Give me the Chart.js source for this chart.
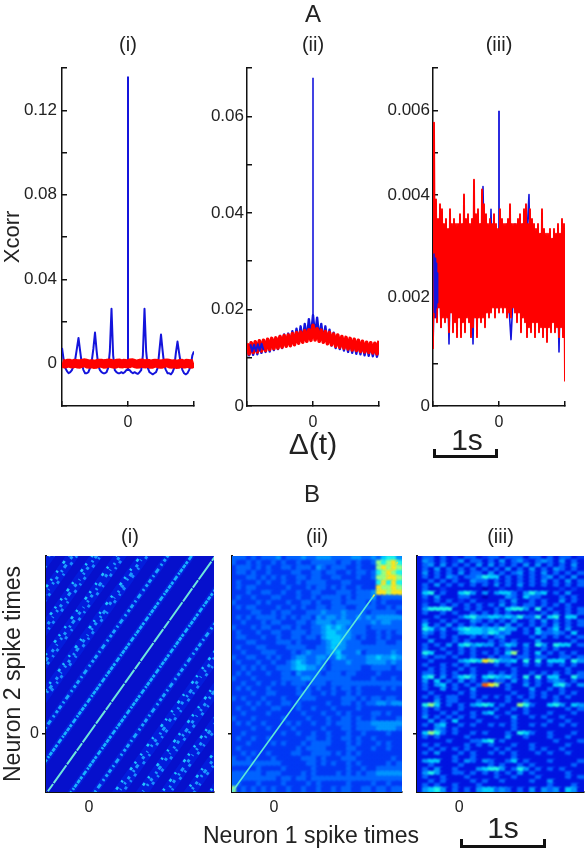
<!DOCTYPE html>
<html><head><meta charset="utf-8">
<script src="https://cdn.jsdelivr.net/npm/chart.js@4"></script>
<style>
html,body{margin:0;padding:0;background:#fff}
#page{position:relative;width:588px;height:852px;overflow:hidden;font-family:"Liberation Sans",sans-serif;color:#222}
canvas{position:absolute;left:0;top:0}
.t{position:absolute;transform:translate(-50%,-50%);white-space:nowrap;line-height:1}
.bar{position:absolute;border:3px solid #111;border-top:none;box-sizing:border-box}
</style></head><body>
<div id="page">
<canvas id="a1" width="588" height="852"></canvas>
<canvas id="a2" width="588" height="852"></canvas>
<canvas id="a3" width="588" height="852"></canvas>
<canvas id="b1" width="588" height="852"></canvas>
<canvas id="b2" width="588" height="852"></canvas>
<canvas id="b3" width="588" height="852"></canvas>
<div class="t" style="left:313px;top:14px;font-size:24px">A</div>
<div class="t" style="left:312px;top:494px;font-size:24px">B</div>
<div class="t" style="left:467px;top:440px;font-size:30px">1s</div>
<div class="t" style="left:503px;top:828px;font-size:30px">1s</div>
<div class="t" style="left:311px;top:835px;font-size:23px">Neuron 1 spike times</div>
<div class="bar" style="left:433px;top:449px;width:65px;height:9px"></div>
<div class="bar" style="left:460px;top:839px;width:86px;height:9px"></div>
</div>
<script>
const panelTitles = ['(i)','(ii)','(iii)'];
const xcorrTicks1 = [-0.02,0,0.02,0.04,0.06,0.08,0.10,0.12,0.14];
const xcorrLabels1 = ['', '0', '', '0.04', '', '0.08', '', '0.12', ''];
const xcorrTicks2 = [0,0.01,0.02,0.03,0.04,0.05,0.06,0.07];
const xcorrLabels2 = ['0','', '0.02','', '0.04','', '0.06',''];
const xcorrTicks3 = [0,0.00086,0.00221,0.00343,0.00429,0.00514,0.006,0.00687];
const xcorrLabels3 = ['0','', '0.002','', '0.004','', '0.006',''];
const lagTicks = [-1,0,1];
const lagLabels = ['', '0', ''];

const blueI = [.0075,.002,-.002,-.0035,-.0045,-.004,-.003,-.001,.002,.007,.0122,
.006,0,-.003,-.0045,-.0045,-.004,-.002,.001,.007,.0148,
.006,-.001,-.003,-.004,-.0045,-.0045,-.004,-.002,.006,.026,
.004,-.003,-.004,-.0045,-.0045,-.004,-.0045,-.004,-.003,-.003,
-.003,-.004,-.0045,-.004,-.0045,-.0048,-.004,-.003,.004,.026,
.006,-.002,-.004,-.0045,-.005,-.0045,-.004,-.002,.006,.0138,
.006,-.001,-.003,-.0045,-.0045,-.005,-.004,-.002,.005,.0105,
.005,0,-.003,-.0045,-.005,-.0045,-.003,-.001,.004,.0058];
const spikeI = [[0,-.003],[0,.136]];
const redI = [.0003,-.0002,.0004,-.0002,.0003,-.0003,.0002,.0005,-.0003,.0001,-.0004,.0003,.0002,-.0003,.0004,.0001,-.0003,.0005,-.0002,.0003,-.0003,.0006,.0001,-.0003,.0005,-.0002,.0003,-.0004,.0003,.0001,-.0003,.0002,.0004,-.0003,.0001,-.0004,.0003,-.0002,.0003,-.0003,.0002];

const blueII = [.0118,.0105,.012,.0106,.0125,.0107,.0127,.011,.013,.0112,.0134,.0113,.0138,.0116,.014,.0118,.0145,.012,.0148,.0124,.015,.0125,.0155,.0128,.016,.0132,.0165,.0135,.017,.014,.018,.0145,.0188,.0145,.0183,.014,.017,.0136,.0165,.013,.0158,.0125,.0152,.012,.0146,.0118,.0142,.0115,.0138,.0112,.0135,.011,.0132,.0108,.013,.0107,.0128,.0105,.0126,.0104,.0125,.0103,.0122,.0102,.012];
const spikeII = [[0,.015],[0,.068]];
const redII = [.013,.0108,.0131,.0111,.0133,.0112,.0135,.0114,.0136,.0115,.0138,.0117,.014,.0119,.0141,.012,.0144,.0122,.0146,.0124,.0147,.0125,.015,.0127,.0152,.013,.0153,.0132,.0156,.0134,.0158,.0136,.0167,.0137,.016,.0134,.0157,.0132,.0154,.0129,.0152,.0127,.0149,.0124,.0147,.0122,.0144,.012,.0142,.0118,.014,.0116,.0138,.0115,.0136,.0113,.0134,.0112,.0132,.0111,.0131,.011,.013,.0108,.0135];
const blueEarlyII = [.0128,.0113,.0127,.0114,.0128,.0115,.0129,.0116];

const blueIII = [.0012,.0031,.0019,.0030,.0016,.0033,.0020,.0032,.00126,.0034,.0020,.0031,.0018,.0035,.0021,.0033,.0019,.0036,.0020,.0032,
.00126,.0034,.0021,.0036,.0019,.00446,.0022,.0034,.0020,.0040,.0021,.0036,.0020,.0034,.0021,.0035,.0022,.0037,.0020,.00135,.0022,.0037,.0020,.0036,.0018,.0037,.0019,.0035,.0043,.0018,.0034,.0019,.0032,.0017,.0033,.0018,.0034,.0017,.0032,.0016,.0034,.0018,.0033,.0011,.0032,.0017,.0033];
const spikeIII = [[0,.0035],[0,.006]];
const redIII = [.00116,.00576,.0018,.0042,.0017,.0038,.0020,.0041,.0016,.0040,.0018,.0037,.0017,.0038,.0018,.0036,.0015,.0040,.0019,.0037,
.0015,.0038,.0017,.0037,.0014,.0037,.0018,.0039,.0014,.0037,.0017,.0043,.0015,.0038,.0018,.0039,.0017,.0037,.0014,.0038,
.0016,.0046,.0018,.0039,.0014,.0040,.0018,.0037,.0017,.0044,.0018,.0041,.0016,.0039,.0019,.0037,.0018,.0038,.0019,.0037,
.0020,.0039,.0018,.0037,.0020,.0036,.0019,.0040,.0020,.0038,.0019,.0037,.0020,.0037,.0018,.0038,.0019,.0041,.0018,.0037,
.0020,.0037,.0019,.0037,.0017,.0038,.0019,.0039,.0015,.0037,.0018,.0040,.0017,.0041,.0014,.0037,.0016,.0040,.0015,.0038,
.0017,.0037,.0014,.0036,.0017,.0037,.0015,.0035,.0016,.0040,.0014,.0036,.0016,.0035,.0013,.0035,.0016,.0036,.0015,.0034,
.0017,.0036,.0015,.0035,.0016,.0037,.0014,.0035,.0016,.0038,.0014,.0037,.0005];
const blueEarlyIII = [.0031,.0019,.0030,.0018,.0029,.0020,.0027,.0021];

const stripeOffsets = {
 main:[[[-.6,-.6],[1.6,1.6]]],
 near:[[[-.6,-.32],[1.6,1.88]],[[-.6,-.88],[1.6,1.32]]],
 mid:[[[-.6,-.04],[1.6,2.16]],[[-.6,-1.16],[1.6,1.04]]],
 far:[[[-.6,.24],[1.6,2.44]],[[-.6,.52],[1.6,2.72]],[[-.6,.8],[1.6,3]],[[-.6,1.08],[1.6,3.28]],[[-.6,1.36],[1.6,3.56]],
      [[-.6,-1.44],[1.6,.76]],[[-.6,-1.72],[1.6,.48]],[[-.6,-2],[1.6,.2]],[[-.6,-2.28],[1.6,-.08]],[[-.6,-2.56],[1.6,-.36]]],
 farUpper:[[[-.6,.28],[1.6,2.48]],[[-.6,.57],[1.6,2.77]],[[-.6,.85],[1.6,3.05]],[[-.6,1.13],[1.6,3.33]],[[-.6,1.41],[1.6,3.61]],
      [[-.6,-1.39],[1.6,.81]],[[-.6,-1.67],[1.6,.53]],[[-.6,-1.95],[1.6,.25]],[[-.6,-2.23],[1.6,-.03]],[[-.6,-2.51],[1.6,-.31]]],
 farLower:[[[-.6,.2],[1.6,2.4]],[[-.6,.47],[1.6,2.67]],[[-.6,.75],[1.6,2.95]],[[-.6,1.03],[1.6,3.23]],[[-.6,1.31],[1.6,3.51]],
      [[-.6,-1.49],[1.6,.71]],[[-.6,-1.77],[1.6,.43]],[[-.6,-2.05],[1.6,.15]],[[-.6,-2.33],[1.6,-.13]],[[-.6,-2.61],[1.6,-.41]]]
};
const diagII = [[-.49,-.486],[1.15,1.147]];
const diagIIb = [[1.15,1.147],[1.45,1.45]];

const heatII = [
"3332323334233343344433334433435664",
"3223232232322322333332332322376786",
"2333232322332333243233322322278787",
"2332322322223322332332232332367876",
"2223323232322332332233222322377887",
"2322232322322323333222332222268686",
"2323322222232223233232322322287787",
"2223223322322322332223332333488788",
"2322322233222322323333232333423333",
"3222232322232233232233233332323222",
"2323322223223232233233322333322323",
"2222332232332223334333433332333332",
"2323233332323233243443433434344444",
"2232223233222332344434443333434433",
"3222323322332322334545433332333333",
"2322232233223332334554443332232323",
"2332223223223323324555443232232322",
"2223322223332322223455433322233223",
"2322233222233332233454433333333333",
"2232223332223234333445333423333343",
"3223322323223443344335433334454454",
"2322232232234543343233343334444343",
"2232323223334554433233333322333323",
"2323222322332433332333233222232222",
"3222322222333344333333332222322232",
"2232232232323332333233333333333333",
"2323222322222323232232332322223232",
"2222322332222333223232232322222222",
"3232223222322233322222333232332332",
"2223232322332322222322332323344344",
"2322322233222322322232222322222222",
"2232222322222232223223232222332322",
"3222322222322223222322332322322223",
"2323223222232322322323332333444444",
"2222322322223222223222332333344443",
"2232222222322322322322232232222322",
"2322322322222223322322332322322222",
"2223222232322232333322232322232322",
"2322222222222323333222233222322322",
"2232322322223322333323232322222222",
"3223222232222233323222333222222232",
"3333333333222223323232232322222323",
"2222232222322222322222232232233333",
"3333332333222232322223232323344444",
"3333333332332332333333333333333333",
"3322232222322223232222232222322322",
"7232323232232232232232332233233233"];

const heatIII = [
"1331312133123313331331313312",
"1431312413313141342134314131",
"1341413131414131314141313141",
"1314131313131314131413143131",
"1413131413314131341314131313",
"1313143133465513131313413141",
"1131313114331313131314131413",
"1314131313131413141313131313",
"1311211111101121121111112121",
"1561311564141455314645131411",
"1314111331101114315331113131",
"1213131213111131411313114131",
"1311313131313141313313131311",
"1466661131311315664161311313",
"1311313113131313111213131313",
"1113111356445545463361561551",
"1311313114313131411314131313",
"1513141313131314131313141313",
"1652413565545464413151351411",
"1431311455546534113153343151",
"1311313113131341111313131313",
"1141113131113131311141111131",
"1313141564544135414164165513",
"1311311313111313113113131111",
"1651131313131315713151313131",
"1313313113113133133133113313",
"1131111456587644516161555164",
"1311313131111313113131313131",
"1131311313111111311111111311",
"1331313113113131311313131313",
"1561413564156545316161551163",
"1415131413131331413131343131",
"1314513131398713114131156314",
"1311413114111113111411313111",
"1131111313111111311313113131",
"1313133113131313131313131311",
"1114133111311113113111131111",
"1675131314565131176311564154",
"1313111311111311313111111313",
"1311313113145113113111311131",
"1413131313111311411313113111",
"1141315111311111311111311311",
"1314511313113131311313113131",
"1114313111111111311111111111",
"1576313113131113165311311131",
"1313111131111114113111311311",
"1111131113356131111111131113",
"1313111131313111311311111311",
"1131313131111313111313113111",
"1314111313113131311131311311",
"1111113113111111311111111111",
"1455113143143113513111311113",
"1131111311113131131311111131",
"1314113111456641364131313111",
"1464113313131313141311111311",
"1311311131111311311131111313",
"1131311113131131111311411111",
"1313113111311111111111311131",
"1456413131455343131414341541"];

const JET = ['#0000be','#0014e1','#0038f5','#0064ff','#0096ff','#00cdff','#1ef5eb','#96ff82','#fae61e','#ff5a0a'];

function xs(arr,a,b){return arr.map((y,i)=>({x:a+i*(b-a)/(arr.length-1),y}));}
function pair(arr){return arr.map(p=>({x:p[0],y:p[1]}));}

const FONT='"Liberation Sans", sans-serif';
function base(o){
 const titleH=o.tsize*1.2+o.tpad, W=o.W, H=o.H;
 return {
  responsive:false, animation:false, devicePixelRatio:1,
  layout:{autoPadding:false,padding:{left:o.L-W,right:588-o.R,top:o.T-titleH,bottom:852-o.B-H}},
  plugins:{legend:{display:false},tooltip:{enabled:false},
   title:{display:true,text:o.title,fullSize:false,color:'#222',font:{family:FONT,size:o.tsize,weight:'normal'},padding:{top:0,bottom:o.tpad}}},
  elements:{point:{radius:0},line:{tension:0}},
  scales:{
   x:{type:'linear',min:o.xr[0],max:o.xr[1],z:1,
      afterFit:s=>{s.height=H},
      afterBuildTicks:s=>{s.ticks=o.xticks.map(v=>({value:v}))},
      border:{color:'#111',width:o.bw},
      grid:{drawOnChartArea:false,color:'#111',lineWidth:o.tw,tickLength:-o.tlx},
      ticks:{autoSkip:false,maxRotation:0,padding:o.xpad,color:'#222',font:{family:FONT,size:o.xfs},callback:(v,i)=>o.xlabels[i]},
      title:o.xtitle?{display:true,text:o.xtitle,color:'#222',font:{family:FONT,size:30},padding:0}:{display:false}},
   y:{type:'linear',min:o.yr[0],max:o.yr[1],z:1,
      afterFit:s=>{s.width=W},
      afterBuildTicks:s=>{s.ticks=o.yticks.map(v=>({value:v}))},
      border:{color:'#111',width:o.bw},
      grid:{drawOnChartArea:false,color:'#111',lineWidth:o.tw,tickLength:o.tly},
      ticks:{autoSkip:false,padding:o.ypad,color:'#222',font:{family:FONT,size:o.yfs},callback:(v,i)=>o.ylabels[i]},
      title:o.ytitle?{display:true,text:o.ytitle,color:'#222',font:{family:FONT,size:o.ytfs},padding:0}:{display:false}}
  }
 };
}
const BLUE='#1414dc',RED='#ff0000';
function ln(data,color,w){return {type:'line',data,borderColor:color,borderWidth:w,pointRadius:0,fill:false,borderJoinStyle:'round',borderCapStyle:'butt'};}
const aCommon={T:68,B:406,H:58,tsize:20,tpad:11,bw:1.5,tw:1.5,tlx:5,tly:-5,xr:[-1,1],xticks:lagTicks,xlabels:lagLabels,xpad:12,xfs:16,ypad:9,yfs:17,W:50};

// Chart.js paints the first dataset last, so the list runs from top layer to bottom layer.
new Chart('a1',{type:'line',data:{datasets:[{...ln(xs(redI,-1,1),RED,9),borderJoinStyle:'bevel'},ln(pair(spikeI),BLUE,2),ln(xs(blueI,-1,1),BLUE,2)]},
 options:base({...aCommon,L:62,R:194,W:62,title:panelTitles[0],yr:[-.02,.14],yticks:xcorrTicks1,ylabels:xcorrLabels1,ytitle:'Xcorr',ytfs:22,ypad:10})});
new Chart('a2',{type:'line',data:{datasets:[ln(xs(blueEarlyII,-.95,-.75),BLUE,2),ln(xs(redII,-1,1),RED,3.6),ln(pair(spikeII),BLUE,1.6),ln(xs(blueII,-1,1),BLUE,2.4)]},
 options:base({...aCommon,L:247,R:379,title:panelTitles[1],yr:[0,.07],yticks:xcorrTicks2,ylabels:xcorrLabels2,xtitle:'\u0394(t)',ypad:8})});
new Chart('a3',{type:'line',data:{datasets:[ln(xs(blueEarlyIII,-.985,-.93),BLUE,1.6),ln(xs(redIII,-1,1),RED,1.9),ln(pair(spikeIII),BLUE,1.8),ln(xs(blueIII,-1,1),BLUE,1.6)]},
 options:base({...aCommon,L:433,R:565,title:panelTitles[2],yr:[0,.00687],yticks:xcorrTicks3,ylabels:xcorrLabels3,ypad:8})});

const blurPlugin=(px,bg,linePx)=>({id:'soft',
 beforeDatasetsDraw(c){const a=c.chartArea,x=c.ctx;x.save();x.fillStyle=bg;x.fillRect(a.left,a.top,a.width,a.height);x.restore();},
 beforeDatasetDraw(c,args){c.ctx.filter='blur('+(args.meta.type==='scatter'?px:linePx)+'px)';},
 afterDatasetDraw(c){c.ctx.filter='none';}});

function sprites(w,h){return JET.map(col=>{const s=document.createElement('canvas');s.width=w;s.height=h;const g=s.getContext('2d');g.fillStyle=col;g.fillRect(0,0,w,h);return s;});}
function cells(rows,xr,yr){const out=[];const nr=rows.length;rows.forEach((r,j)=>{const nc=r.length;for(let i=0;i<nc;i++){out.push({x:xr[0]+(i+.5)*(xr[1]-xr[0])/nc,y:yr[1]-(j+.5)*(yr[1]-yr[0])/nr,v:+r[i]});}});return out;}
function heat(rows,xr,yr,w,h){const sp=sprites(w,h);return {type:'scatter',data:cells(rows,xr,yr),showLine:false,pointRadius:1,pointStyle:c=>c.raw?sp[c.raw.v]:'circle'};}

const bCommon={T:556,B:792,H:40,tsize:20,tpad:7,bw:2,tw:1.5,tlx:5,tly:4,xticks:[0],xlabels:['0'],xpad:11,xfs:16,yticks:[0],ypad:3,yfs:16,W:30};
const STRIPE={
 main:{c:'#6ee6dc',w:2,d:[16,1,9,1,22,1]},
 near:{c:'#18b0ff',w:2.8,d:[4,1,3,2,5,2,2,1,4,1]},
 mid:{c:'#1aa4ff',w:3,d:[3,2,4,3,2,3,5,4,2,3]},
 far:{c:'#1c98ff',w:3,d:[2,4,3,6,2,3,4,7,3,5,1,6]},
 farUpper:{c:'#22c4ff',w:2.6,d:[2,9,3,6,2,13,3,5,2,8]},
 farLower:{c:'#1a8cff',w:2.8,d:[3,7,2,11,3,6,2,5,3,12]}
};
const ds1=[];
['main','near','mid','far','farUpper','farLower'].forEach(k=>{stripeOffsets[k].forEach((s,i)=>{
  const st=STRIPE[k];
  ds1.push({...ln(pair(s),st.c,st.w),borderDash:st.d,borderDashOffset:i*7});
  if(k==='near'||k==='mid')ds1.push({...ln(pair(s),'rgba(0,50,240,.45)',6)});
});});
stripeOffsets.far.forEach(s=>ds1.push(ln(pair(s),'rgba(0,40,235,.5)',11)));
new Chart('b1',{type:'line',data:{datasets:ds1},plugins:[blurPlugin(.55,'#0610cc',.55)],
 options:base({...bCommon,L:46,R:214,title:panelTitles[0],xr:[-.506,1.47],yr:[-.49,1.486],ylabels:['0'],ytitle:'Neuron 2 spike times',ytfs:23,W:46})});
new Chart('b2',{type:'line',data:{datasets:[{...ln(pair(diagIIb),'#d2e650',1.6),borderDash:[3,5]},ln(pair(diagII),'#5ce8d8',1.6),heat(heatII,[-.49,1.49],[-.486,1.49],7,7)]},plugins:[blurPlugin(.8,'#0a3cf0',.25)],
 options:base({...bCommon,L:232,R:402,title:panelTitles[1],xr:[-.49,1.49],yr:[-.486,1.49],ylabels:['']})});
new Chart('b3',{type:'line',data:{datasets:[heat(heatIII,[-.5,1.48],[-.486,1.49],8,6)]},plugins:[blurPlugin(.9,'#0a1eeb',.9)],
 options:base({...bCommon,L:417,R:584,title:panelTitles[2],xr:[-.5,1.48],yr:[-.486,1.49],ylabels:['']})});
</script>
</body></html>
